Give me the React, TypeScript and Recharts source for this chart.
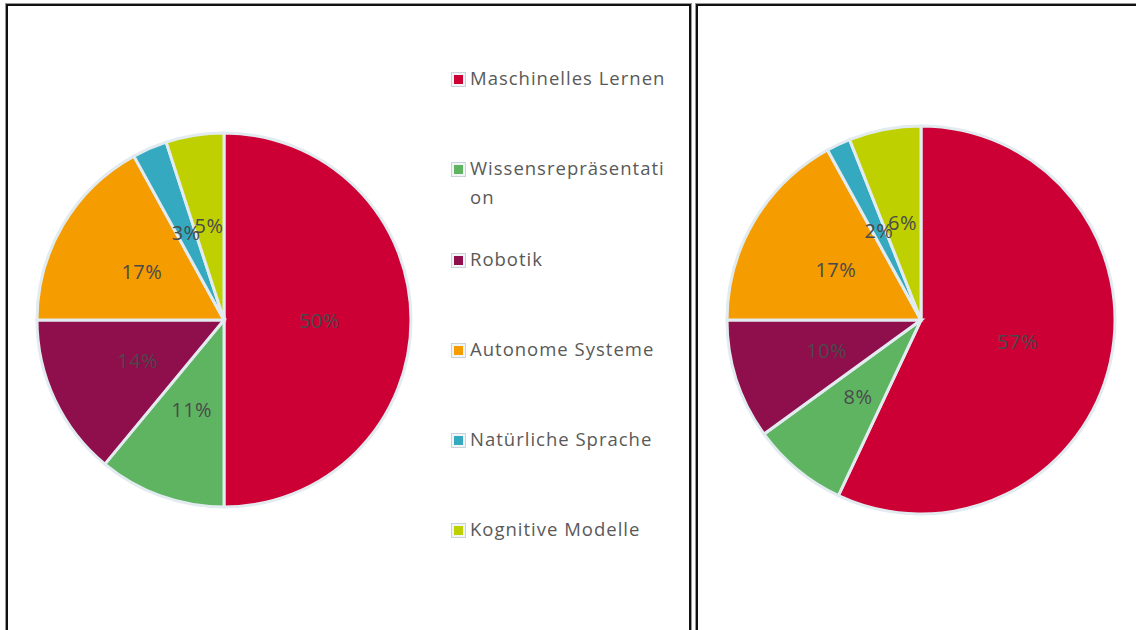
import { PieChart, Pie, Cell } from "recharts";

const kategorien = [
  "Maschinelles Lernen",
  "Wissensrepräsentation",
  "Robotik",
  "Autonome Systeme",
  "Natürliche Sprache",
  "Kognitive Modelle",
];
const farben = ["#cc0035", "#5fb462", "#8f0e4c", "#f59c00", "#35a9c0", "#bfd000"];
const werteLinks = [50, 11, 14, 17, 3, 5];
const werteRechts = [57, 8, 10, 17, 2, 6];

const RAD = Math.PI / 180;
const SCHRIFT = "'Open Sans', 'Noto Sans', sans-serif";

function Beschriftung(props: any) {
  const { cx, cy, midAngle, outerRadius, value } = props;
  const r = outerRadius * 0.51;
  const x = cx + r * Math.cos(-midAngle * RAD);
  const y = cy + r * Math.sin(-midAngle * RAD);
  return (
    <text x={x} y={y} fill="#4a4a4a" fontSize={20} letterSpacing={0.5} fontFamily={SCHRIFT} textAnchor="middle" dominantBaseline="central">
      {value}%
    </text>
  );
}

function Kuchen({ werte, cx, cy, radius, width, height }: { werte: number[]; cx: number; cy: number; radius: number; width: number; height: number }) {
  const daten = kategorien.map((name, i) => ({ name, value: werte[i] }));
  return (
    <PieChart width={width} height={height} margin={{ top: 0, right: 0, bottom: 0, left: 0 }}>
      <Pie
        data={daten}
        dataKey="value"
        cx={cx}
        cy={cy}
        outerRadius={radius}
        startAngle={90}
        endAngle={-270}
        stroke="#e2ecf0"
        strokeWidth={3}
        label={Beschriftung}
        labelLine={false}
        isAnimationActive={false}
      >
        {daten.map((_, i) => (
          <Cell key={i} fill={farben[i]} />
        ))}
      </Pie>
    </PieChart>
  );
}

const legendeY = [62, 152, 243, 333, 423, 513];

export default function App() {
  return (
    <div style={{ position: "absolute", left: 0, top: 0, width: 1136, height: 630, overflow: "hidden", background: "#fff" }}>
      <div style={{ position: "absolute", left: 6, top: 4, width: 681, height: 650, border: "2px solid #111", boxShadow: "0 0 0 1px #999" }}>
        <Kuchen werte={werteLinks} cx={216} cy={314} radius={187} width={681} height={640} />
        {kategorien.map((name, i) => (
          <div key={name} style={{ position: "absolute", left: 443, top: legendeY[i], width: 230, display: "flex", alignItems: "flex-start" }}>
            <div style={{ width: 13, height: 13, border: "1px solid #c9d3d8", background: "#f2f5f7", display: "flex", alignItems: "center", justifyContent: "center", marginTop: 4, marginRight: 4, flexShrink: 0 }}>
              <div style={{ width: 9, height: 9, background: farben[i] }} />
            </div>
            <div style={{ fontFamily: SCHRIFT, fontSize: 18.5, letterSpacing: 1, color: "#595959", lineHeight: "29px", marginTop: -5, overflowWrap: "anywhere", width: 200 }}>{name}</div>
          </div>
        ))}
      </div>
      <div style={{ position: "absolute", left: 696, top: 4, width: 460, height: 650, border: "2px solid #111", boxShadow: "0 0 0 1px #999" }}>
        <Kuchen werte={werteRechts} cx={223} cy={314} radius={194} width={460} height={640} />
      </div>
    </div>
  );
}
